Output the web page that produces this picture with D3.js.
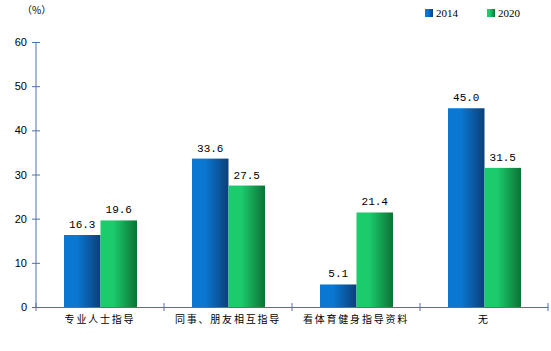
<!DOCTYPE html>
<html>
<head>
<meta charset="utf-8">
<script src="https://cdn.jsdelivr.net/npm/d3@7"></script>
<style>
  body { margin: 0; background: #fff; }
  svg text { fill: #000; }
</style>
</head>
<body>
<div id="chart"></div>
<script>
// data
const categories = ["专业人士指导", "同事、朋友相互指导", "看体育健身指导资料", "无"];
const years = ["2014", "2020"];
const values2014 = [16.3, 33.6, 5.1, 45.0];
const values2020 = [19.6, 27.5, 21.4, 31.5];
const yTicks = [0, 10, 20, 30, 40, 50, 60];

const W = 551, H = 351;
const margin = { top: 42, right: 3, bottom: 44, left: 36 };
const width = W - margin.left - margin.right;
const height = H - margin.top - margin.bottom;

const svg = d3.select("#chart").append("svg")
  .attr("width", W).attr("height", H);

// gradients for the bars
const defs = svg.append("defs");
const grads = [
  { id: "g2014", from: "#0a78d2", to: "#0b3f78" },
  { id: "g2020", from: "#1ccb6c", to: "#0c7236" }
];
grads.forEach(g => {
  const lg = defs.append("linearGradient").attr("id", g.id)
    .attr("x1", "0%").attr("x2", "100%").attr("y1", "0%").attr("y2", "0%");
  lg.append("stop").attr("offset", "0%").attr("stop-color", g.from);
  lg.append("stop").attr("offset", "35%").attr("stop-color", g.from);
  lg.append("stop").attr("offset", "100%").attr("stop-color", g.to);
});

const g = svg.append("g").attr("transform", `translate(${margin.left},${margin.top})`);

const x = d3.scaleBand().domain(categories).range([0, width]).paddingInner(0).paddingOuter(0);
const xs = d3.scaleBand().domain(years).range([28, x.bandwidth() - 27]);
const y = d3.scaleLinear().domain([0, 60]).range([height, 0]);

const axisColor = "#4e72a6";

// y axis
const yAxis = g.append("g")
  .call(d3.axisLeft(y).tickValues(yTicks).tickSize(4).tickSizeInner(4).tickFormat(d3.format("d")));
yAxis.select(".domain").attr("stroke", axisColor).attr("d", `M0,0V${height}`);
yAxis.selectAll(".tick line").attr("stroke", axisColor).attr("x1", 4).attr("x2", -4);
yAxis.selectAll(".tick text")
  .attr("x", -9)
  .style("font-family", "Arial, 'Liberation Sans', sans-serif")
  .style("font-size", "11px");

// x axis
const xAxis = g.append("g").attr("transform", `translate(0,${height})`)
  .call(d3.axisBottom(x).tickSize(0).tickPadding(9));
xAxis.select(".domain").attr("stroke", axisColor);
xAxis.selectAll(".tick text")
  .style("font-family", "'Noto Sans CJK SC', sans-serif")
  .style("font-size", "10px")
  .style("letter-spacing", "1.8px");

// category dividers
g.append("g").selectAll("line")
  .data(categories.concat(["end"]))
  .join("line")
  .attr("x1", (d, i) => i * x.step())
  .attr("x2", (d, i) => i * x.step())
  .attr("y1", height - 4).attr("y2", height + 4)
  .attr("stroke", axisColor);

// bars
const rows = categories.map((c, i) => ({ cat: c, vals: [values2014[i], values2020[i]] }));
const groups = g.selectAll(".grp").data(rows).join("g")
  .attr("transform", d => `translate(${x(d.cat)},0)`);

groups.selectAll("rect")
  .data(d => d.vals.map((v, j) => ({ year: years[j], v })))
  .join("rect")
  .attr("x", d => xs(d.year))
  .attr("width", xs.bandwidth())
  .attr("y", d => y(d.v))
  .attr("height", d => height - y(d.v))
  .attr("fill", d => `url(#g${d.year})`);

groups.selectAll(".lbl")
  .data(d => d.vals.map((v, j) => ({ year: years[j], v })))
  .join("text")
  .attr("class", "lbl")
  .attr("x", d => xs(d.year) + xs.bandwidth() / 2)
  .attr("y", d => y(d.v) - 7)
  .attr("text-anchor", "middle")
  .style("font-family", "'Liberation Mono', 'DejaVu Sans Mono', monospace")
  .style("font-size", "11px")
  .text(d => d.v.toFixed(1));

// unit label
svg.append("text").attr("x", 22).attr("y", 14)
  .style("font-family", "'Noto Sans CJK SC', sans-serif")
  .style("font-size", "10px")
  .text("（%）");

// legend
const legend = svg.append("g").attr("transform", "translate(425,9)");
years.forEach((yr, i) => {
  const lg = legend.append("g").attr("transform", `translate(${i * 62},0)`);
  lg.append("rect").attr("width", 8).attr("height", 8).attr("fill", `url(#g${yr})`);
  lg.append("text").attr("x", 11).attr("y", 8)
    .style("font-family", "'Liberation Serif', serif")
    .style("font-size", "11px")
    .text(yr);
});
</script>
</body>
</html>
